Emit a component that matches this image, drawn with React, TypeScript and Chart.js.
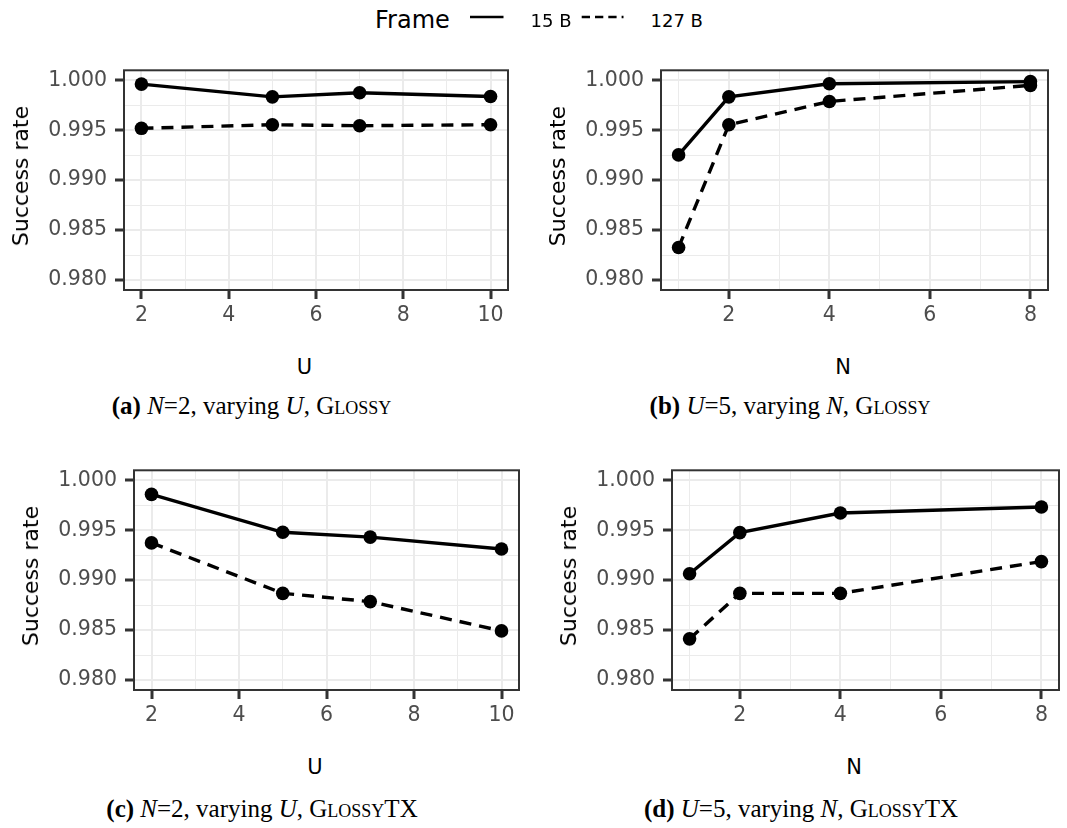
import React, { useEffect, useRef } from "react";
import { Chart, registerables } from "chart.js";

Chart.register(...registerables);

// ---------- data ----------
const uValues = [2, 5, 7, 10];
const nValues = [1, 2, 4, 8];

const glossyU15 = [0.99962, 0.99834, 0.99875, 0.99838];
const glossyU127 = [0.99519, 0.99555, 0.99545, 0.99555];
const glossyN15 = [0.99253, 0.99834, 0.99965, 0.99987];
const glossyN127 = [0.98326, 0.99555, 0.99788, 0.99949];
const txU15 = [0.99859, 0.99479, 0.99431, 0.99312];
const txU127 = [0.99373, 0.98868, 0.98785, 0.98492];
const txN15 = [0.99064, 0.99476, 0.99672, 0.99733];
const txN127 = [0.98412, 0.98868, 0.98868, 0.99186];

const yTicks = [0.98, 0.9825, 0.985, 0.9875, 0.99, 0.9925, 0.995, 0.9975, 1.0];
const yMajorTicks = [0.98, 0.985, 0.99, 0.995, 1.0];
const uTicks = [2, 3, 4, 5, 6, 7, 8, 9, 10];
const uMajorTicks = [2, 4, 6, 8, 10];
const nTicks = [1, 2, 3, 4, 5, 6, 7, 8];
const nMajorTicks = [2, 4, 6, 8];

const seriesLabels = ["15 B", "127 B"];

// ---------- layout ----------
const YW = 110; // y-axis box width
const XH = 60; // x-axis box height
const PAD_TOP = 12;
const PAD_RIGHT = 8;
const SANS = "'DejaVu Sans', 'Liberation Sans', Arial, sans-serif";
const SERIF = "'Liberation Serif', 'Times New Roman', serif";

const isIn = (list: number[], v: number) => list.some((m) => Math.abs(m - v) < 1e-9);

const borderPlugin = {
  id: "panelBorder",
  afterDatasetsDraw(chart: any) {
    const { ctx, chartArea } = chart;
    ctx.save();
    ctx.strokeStyle = "#333333";
    ctx.lineWidth = 2;
    ctx.strokeRect(chartArea.left, chartArea.top, chartArea.right - chartArea.left, chartArea.bottom - chartArea.top);
    ctx.restore();
  },
};

type PanelProps = {
  box: { left: number; top: number; width: number; height: number };
  xs: number[];
  s15: number[];
  s127: number[];
  xMin: number;
  xMax: number;
  xTicks: number[];
  xMajor: number[];
};

function Panel({ box, xs, s15, s127, xMin, xMax, xTicks, xMajor }: PanelProps) {
  const ref = useRef<HTMLCanvasElement | null>(null);
  const w = box.width + YW + PAD_RIGHT;
  const h = box.height + PAD_TOP + XH;
  useEffect(() => {
    if (!ref.current) return;
    const mk = (vals: number[]) => xs.map((x, i) => ({ x, y: vals[i] }));
    const common = {
      borderColor: "#000000",
      backgroundColor: "#000000",
      borderWidth: 3.4,
      pointRadius: 6.8,
      pointBorderWidth: 0,
      pointBackgroundColor: "#000000",
      tension: 0,
      clip: false,
    };
    const chart = new Chart(ref.current, {
      type: "line",
      data: {
        datasets: [
          { label: seriesLabels[0], data: mk(s15), ...common },
          { label: seriesLabels[1], data: mk(s127), borderDash: [12, 8], ...common },
        ],
      } as any,
      options: {
        animation: false,
        responsive: false,
        maintainAspectRatio: false,
        events: [],
        layout: { padding: { top: PAD_TOP, right: PAD_RIGHT, left: 0, bottom: 0 } },
        plugins: { legend: { display: false }, tooltip: { enabled: false } },
        scales: {
          x: {
            type: "linear",
            min: xMin,
            max: xMax,
            afterBuildTicks: (s: any) => {
              s.ticks = xTicks.map((v) => ({ value: v }));
            },
            afterFit: (s: any) => {
              s.height = XH;
            },
            border: { display: false },
            grid: {
              color: "#EBEBEB",
              lineWidth: (c: any) => (isIn(xMajor, c.tick?.value) ? 2 : 1),
              tickColor: (c: any) => (isIn(xMajor, c.tick?.value) ? "#333333" : "rgba(0,0,0,0)"),
              tickLength: 9,
              tickWidth: 3,
            },
            ticks: {
              autoSkip: false,
              maxRotation: 0,
              minRotation: 0,
              padding: 4,
              color: "#4D4D4D",
              font: { family: SANS, size: 20.5 },
              callback: (v: any) => (isIn(xMajor, Number(v)) ? String(v) : ""),
            },
          },
          y: {
            type: "linear",
            min: 0.979,
            max: 1.001,
            afterBuildTicks: (s: any) => {
              s.ticks = yTicks.map((v) => ({ value: v }));
            },
            afterFit: (s: any) => {
              s.width = YW;
            },
            border: { display: false },
            grid: {
              color: "#EBEBEB",
              lineWidth: (c: any) => (isIn(yMajorTicks, c.tick?.value) ? 2 : 1),
              tickColor: (c: any) => (isIn(yMajorTicks, c.tick?.value) ? "#333333" : "rgba(0,0,0,0)"),
              tickLength: 9,
              tickWidth: 3,
            },
            ticks: {
              autoSkip: false,
              padding: 8,
              color: "#4D4D4D",
              font: { family: SANS, size: 20.5 },
              callback: (v: any) => (isIn(yMajorTicks, Number(v)) ? Number(v).toFixed(3) : ""),
            },
          },
        },
      } as any,
      plugins: [borderPlugin],
    });
    return () => chart.destroy();
  }, []);
  return (
    <canvas
      ref={ref}
      width={w}
      height={h}
      style={{ position: "absolute", left: box.left - YW, top: box.top - PAD_TOP, width: w, height: h }}
    />
  );
}

const txt = (style: React.CSSProperties, children: React.ReactNode, key?: string) => (
  <div key={key} style={{ position: "absolute", whiteSpace: "nowrap", lineHeight: 1, ...style }}>
    {children}
  </div>
);

function AxisTitles({ box, xLabel }: { box: PanelProps["box"]; xLabel: string }) {
  const cx = box.left + box.width / 2 - 11.5;
  const yx = box.left - 103;
  const cy = box.top + box.height / 2;
  return (
    <>
      {txt(
        { left: cx, top: box.top + box.height + 77, transform: "translate(-50%,-50%)", fontFamily: SANS, fontSize: 21, color: "#000" },
        xLabel
      )}
      {txt(
        { left: yx, top: cy, transform: "translate(-50%,-50%) rotate(-90deg)", fontFamily: SANS, fontSize: 22, color: "#000" },
        "Success rate"
      )}
    </>
  );
}

function Caption({ cx, baseline, tag, fixedVar, fixedVal, varyVar, sys }: any) {
  const fs = 25;
  return txt(
    {
      left: cx,
      top: baseline - 0.8375 * fs,
      transform: "translateX(-50%)",
      fontFamily: SERIF,
      fontSize: fs,
      color: "#000",
    },
    <>
      <b>({tag})</b> <i>{fixedVar}</i>={fixedVal}, varying <i>{varyVar}</i>,{" "}
      <span style={{ fontVariant: "small-caps" }}>{sys}</span>
    </>
  );
}

export default function App() {
  const boxA = { left: 124, top: 62, width: 384, height: 228 };
  const boxB = { left: 661, top: 62, width: 387, height: 228 };
  const boxC = { left: 134, top: 462, width: 385, height: 228 };
  const boxD = { left: 672, top: 462, width: 387, height: 228 };
  const legendBase = 26.7;
  return (
    <div
      style={{
        position: "absolute",
        left: 0,
        top: 0,
        width: 1067,
        height: 828,
        overflow: "hidden",
        background: "#ffffff",
      }}
    >
      <Panel box={boxA} xs={uValues} s15={glossyU15} s127={glossyU127} xMin={1.6} xMax={10.4} xTicks={uTicks} xMajor={uMajorTicks} />
      <Panel box={boxB} xs={nValues} s15={glossyN15} s127={glossyN127} xMin={0.65} xMax={8.35} xTicks={nTicks} xMajor={nMajorTicks} />
      <Panel box={boxC} xs={uValues} s15={txU15} s127={txU127} xMin={1.6} xMax={10.4} xTicks={uTicks} xMajor={uMajorTicks} />
      <Panel box={boxD} xs={nValues} s15={txN15} s127={txN127} xMin={0.65} xMax={8.35} xTicks={nTicks} xMajor={nMajorTicks} />

      <AxisTitles box={boxA} xLabel="U" />
      <AxisTitles box={boxB} xLabel="N" />
      <AxisTitles box={boxC} xLabel="U" />
      <AxisTitles box={boxD} xLabel="N" />

      {/* legend */}
      {txt({ left: 375, top: legendBase - 0.76 * 24 - 0.03 * 24, fontFamily: SANS, fontSize: 24, color: "#000" }, "Frame")}
      <svg style={{ position: "absolute", left: 468, top: 10, width: 40, height: 14 }} width={40} height={14}>
        <line x1={2} y1={7} x2={35.5} y2={7} stroke="#000" strokeWidth={2.7} />
      </svg>
      {txt({ left: 530.5, top: legendBase - 0.79 * 18, fontFamily: SANS, fontSize: 18, color: "#000" }, seriesLabels[0])}
      <svg style={{ position: "absolute", left: 580, top: 10, width: 48, height: 14 }} width={48} height={14}>
        <line x1={1.7} y1={7} x2={43.5} y2={7} stroke="#000" strokeWidth={2.7} strokeDasharray="8.3 5" />
      </svg>
      {txt({ left: 650.5, top: legendBase - 0.79 * 18, fontFamily: SANS, fontSize: 18, color: "#000" }, seriesLabels[1])}

      <Caption cx={251.5} baseline={414} tag="a" fixedVar="N" fixedVal="2" varyVar="U" sys="Glossy" />
      <Caption cx={790} baseline={414} tag="b" fixedVar="U" fixedVal="5" varyVar="N" sys="Glossy" />
      <Caption cx={262} baseline={817} tag="c" fixedVar="N" fixedVal="2" varyVar="U" sys="GlossyTX" />
      <Caption cx={801} baseline={817} tag="d" fixedVar="U" fixedVal="5" varyVar="N" sys="GlossyTX" />
    </div>
  );
}
